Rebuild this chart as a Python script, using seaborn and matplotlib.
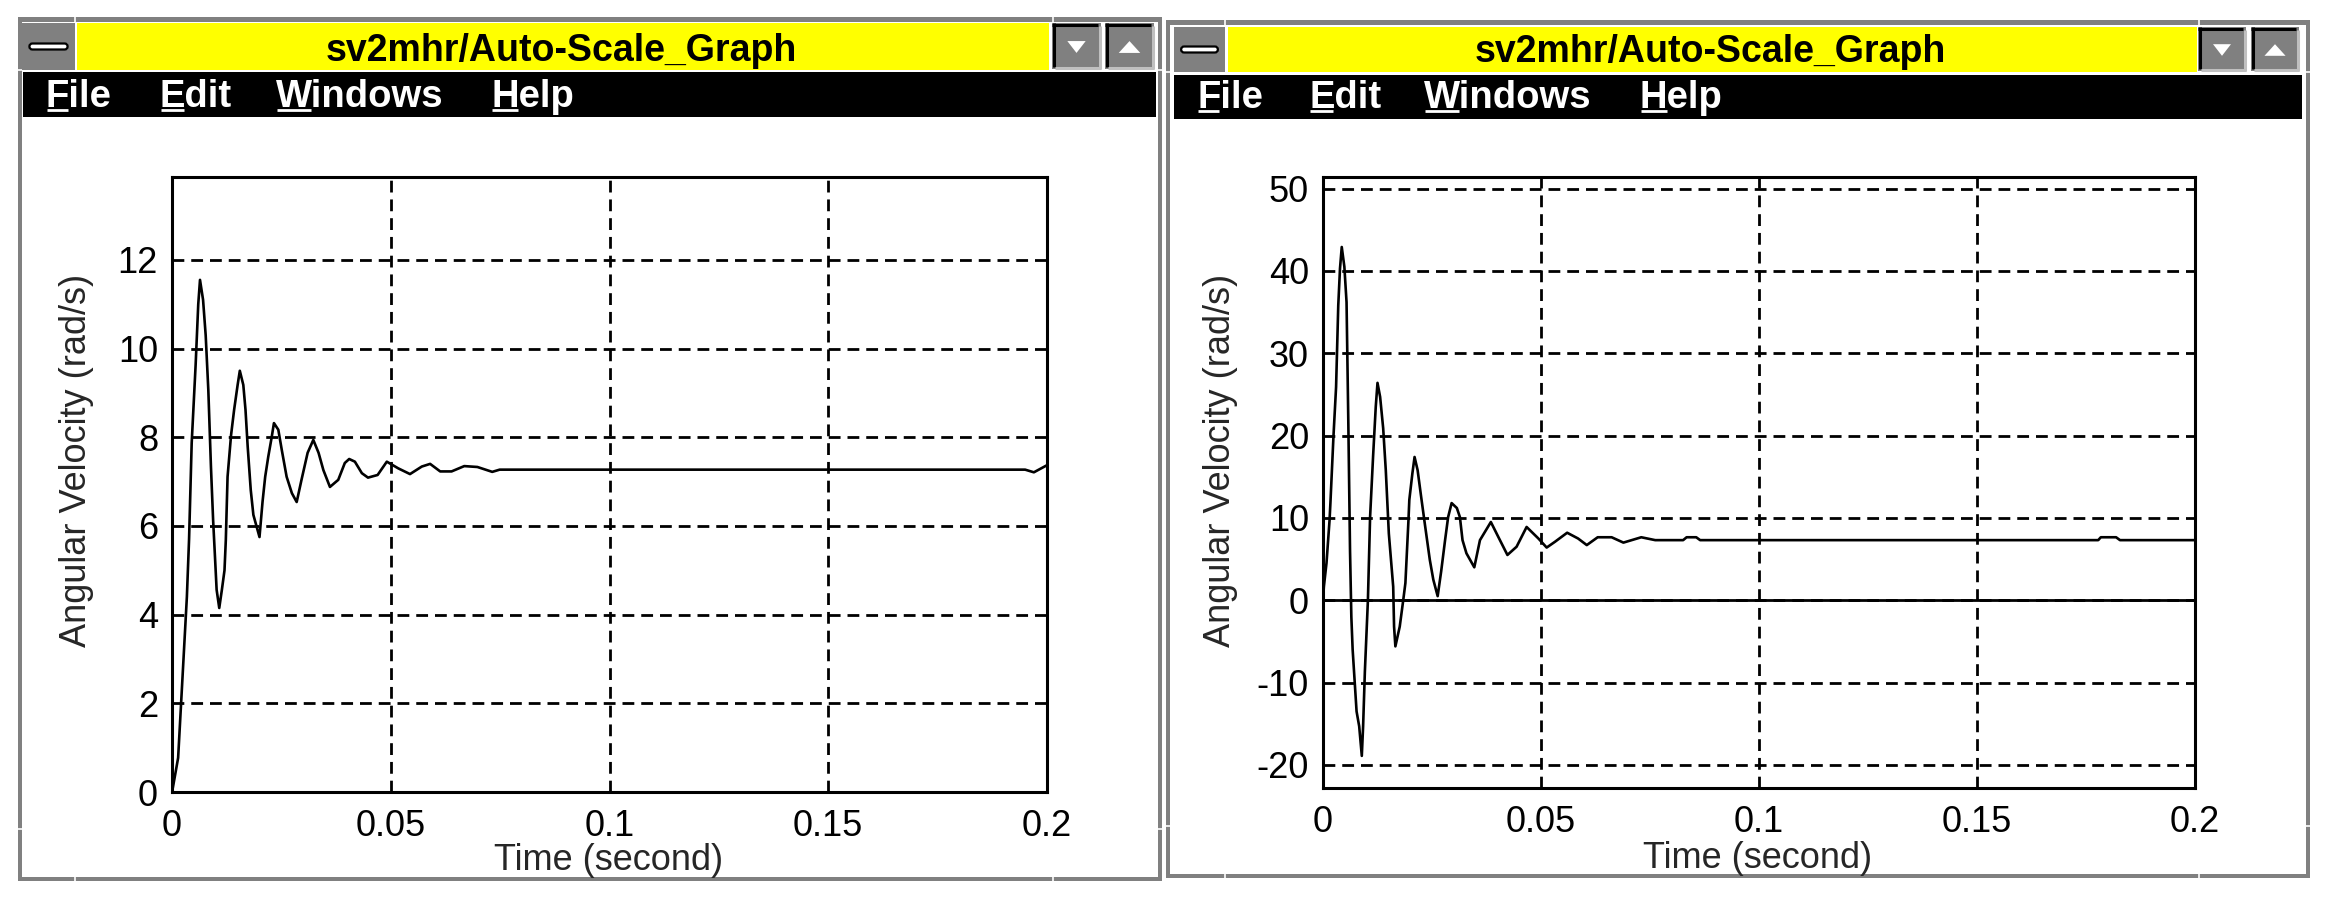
import matplotlib
matplotlib.use("Agg")
import matplotlib.pyplot as plt
import seaborn as sns
import pandas as pd
from matplotlib.patches import Rectangle, FancyBboxPatch, Polygon
from matplotlib.lines import Line2D

# ---------------- data ----------------
window_title = "sv2mhr/Auto-Scale_Graph"
menu_items = ["File", "Edit", "Windows", "Help"]
x_label = "Time (second)"
y_label = "Angular Velocity (rad/s)"
x_ticks = [0, 0.05, 0.1, 0.15, 0.2]
x_tick_labels = ["0", "0.05", "0.1", "0.15", "0.2"]
left_y_ticks = [0, 2, 4, 6, 8, 10, 12]
right_y_ticks = [-20, -10, 0, 10, 20, 30, 40, 50]

left_t = [0.0, 0.0002, 0.0014, 0.0023, 0.0034, 0.0039, 0.0045, 0.0054, 0.0060, 0.0064,
          0.0071, 0.0077, 0.0083, 0.0089, 0.0094, 0.0098, 0.0102, 0.0108, 0.0114, 0.0120,
          0.0123, 0.0127, 0.0135, 0.0142, 0.0150, 0.0155, 0.0163, 0.0168, 0.0173, 0.0180,
          0.0186, 0.0200, 0.0207, 0.0213, 0.0220, 0.0228, 0.0233, 0.0243, 0.0251, 0.0262,
          0.0274, 0.0285, 0.0296, 0.0310, 0.0323, 0.0335, 0.0346, 0.0361, 0.0380, 0.0395,
          0.0405, 0.0418, 0.0434, 0.0448, 0.0470, 0.0491, 0.0517, 0.0544, 0.0571, 0.0590,
          0.0613, 0.0639, 0.0668, 0.0698, 0.0732, 0.0749, 0.1950, 0.1970, 0.2000]
left_v = [0.0, 0.1, 0.77, 2.4, 4.4, 5.7, 7.87, 9.63, 11.0, 11.55,
          11.1, 10.3, 9.07, 7.34, 6.13, 5.35, 4.56, 4.15, 4.56, 5.0,
          5.68, 7.11, 8.05, 8.62, 9.18, 9.5, 9.18, 8.62, 7.79, 6.81,
          6.25, 5.75, 6.55, 7.11, 7.56, 8.01, 8.32, 8.17, 7.71, 7.11,
          6.74, 6.54, 7.04, 7.65, 7.94, 7.65, 7.26, 6.88, 7.04, 7.42,
          7.51, 7.45, 7.19, 7.09, 7.15, 7.45, 7.30, 7.17, 7.34, 7.40,
          7.23, 7.23, 7.35, 7.33, 7.22, 7.27, 7.27, 7.21, 7.37]

right_t = [0.0, 0.0002, 0.0008, 0.0015, 0.0017, 0.0024, 0.0030, 0.0035, 0.0039, 0.0043,
           0.0049, 0.0054, 0.0058, 0.0062, 0.0065, 0.0068, 0.0077, 0.0083, 0.0089, 0.0092,
           0.0096, 0.0103, 0.0108, 0.0115, 0.0121, 0.0125, 0.0131, 0.0138, 0.0144, 0.0151,
           0.0161, 0.0163, 0.0166, 0.0176, 0.0184, 0.0189, 0.0196, 0.0198, 0.0205, 0.0210,
           0.0217, 0.0225, 0.0234, 0.0245, 0.0253, 0.0263, 0.0271, 0.0280, 0.0287, 0.0295,
           0.0307, 0.0314, 0.0320, 0.0329, 0.0347, 0.0360, 0.0385, 0.0402, 0.0423, 0.0444,
           0.0467, 0.0494, 0.0513, 0.0532, 0.0560, 0.0585, 0.0605, 0.0630, 0.0662, 0.0689,
           0.0730, 0.0762, 0.0826, 0.0834, 0.0856, 0.0865, 0.1778, 0.1784, 0.1819, 0.1828,
           0.2000]
right_v = [0.0, 1.65, 4.5, 9.7, 11.8, 19.9, 25.9, 35.8, 40.3, 42.9,
           40.5, 36.2, 21.9, 6.0, -2.0, -6.0, -13.5, -15.3, -18.9, -15.3,
           -8.7, 0.0, 10.1, 17.6, 23.5, 26.4, 24.7, 20.9, 15.8, 8.1,
           1.65, -3.2, -5.6, -3.2, 0.0, 2.1, 9.7, 12.2, 15.4, 17.4,
           15.8, 12.6, 9.1, 4.9, 2.5, 0.5, 3.5, 7.3, 10.1, 11.8,
           11.2, 10.1, 7.3, 5.7, 4.0, 7.3, 9.5, 7.7, 5.5, 6.5,
           8.9, 7.5, 6.4, 7.1, 8.2, 7.5, 6.7, 7.65, 7.65, 7.0,
           7.65, 7.3, 7.3, 7.65, 7.65, 7.3, 7.3, 7.65, 7.65, 7.3,
           7.3]

# ---------------- style ----------------
sns.set_style("white")
plt.rcParams["font.family"] = ["Liberation Sans", "DejaVu Sans"]
plt.rcParams["axes.unicode_minus"] = False
plt.rcParams["lines.scale_dashes"] = False

W, H = 2327, 898
fig = plt.figure(figsize=(W / 100, H / 100), dpi=100)
fig.patch.set_facecolor("white")

bg = fig.add_axes([0, 0, 1, 1], zorder=0)
bg.set_xlim(0, W)
bg.set_ylim(H, 0)
bg.axis("off")

GRAY = "#808080"


def rect(x0, y0, x1, y1, color, z=1, **kw):
    bg.add_patch(Rectangle((x0, y0), x1 - x0, y1 - y0, facecolor=color,
                           edgecolor="none", zorder=z, **kw))


def hline(x0, x1, y, color, lw, z=3):
    bg.add_line(Line2D([x0, x1], [y, y], color=color, lw=lw, zorder=z,
                       solid_capstyle="butt"))


def vline(x, y0, y1, color, lw, z=3):
    bg.add_line(Line2D([x, x], [y0, y1], color=color, lw=lw, zorder=z,
                       solid_capstyle="butt"))


def draw_window(fx0, fy0, fx1, fy1, minbox, yel, down, up, menu, title_cx,
                title_base, menu_x, menu_base):
    # outer frame
    rect(fx0, fy0, fx1, fy1, GRAY, z=1)
    rect(fx0 + 4, fy0 + 5, fx1 - 4, fy1 - 4, "white", z=1.5)
    # frame notches
    for nx in (minbox[1], down[0] + 1):
        vline(nx, fy0, fy0 + 5, "white", 1.2, z=2)
        vline(nx, fy1 - 4, fy1, "white", 1.2, z=2)
    for ny in (yel[3], fy1 - 52):
        hline(fx0, fx0 + 4, ny, "white", 1.2, z=2)
        hline(fx1 - 4, fx1, ny, "white", 1.2, z=2)
    # minimize box
    rect(minbox[0], minbox[2], minbox[1], minbox[3], GRAY, z=2)
    cx = (minbox[0] + minbox[1]) / 2
    cy = (minbox[2] + minbox[3]) / 2
    bw = (minbox[1] - minbox[0]) * 0.72
    bg.add_patch(FancyBboxPatch((cx - bw / 2, cy - 3), bw, 6,
                                boxstyle="round,pad=0,rounding_size=3",
                                facecolor="white", edgecolor="black", lw=1.6, zorder=3))
    # yellow title bar
    rect(yel[0], yel[2], yel[1], yel[3], "#ffff00", z=2)
    bg.text(title_cx, title_base, window_title, ha="center", va="baseline",
            fontsize=27, fontweight="bold", color="black", zorder=4)
    # buttons
    for (bx0, bx1), pointing_up in ((down, False), (up, True)):
        by0, by1 = yel[2], yel[3] - 1
        rect(bx0, by0, bx1, by1, GRAY, z=2)
        hline(bx0, bx1 - 3, by0 + 1.5, "black", 2.2)
        vline(bx0 + 1.5, by0, by1 - 2, "black", 2.2)
        vline(bx1 - 1.5, by0 + 3, by1, "#c0c0c0", 2.2)
        hline(bx0 + 3, bx1, by1 - 1.5, "#c0c0c0", 2.2)
        mx = (bx0 + bx1) / 2
        my = (by0 + by1) / 2 + 1
        hw = (bx1 - bx0) * 0.22
        hh = hw * 0.55
        if pointing_up:
            pts = [(mx - hw, my + hh), (mx + hw, my + hh), (mx, my - hh)]
        else:
            pts = [(mx - hw * 0.85, my - hh), (mx + hw * 0.85, my - hh), (mx, my + hh)]
        bg.add_patch(Polygon(pts, closed=True, facecolor="white", edgecolor="none", zorder=4))
    # menu bar
    rect(menu[0], menu[2], menu[1], menu[3], "black", z=2)
    renderer = fig.canvas.get_renderer()
    inv = bg.transData.inverted()
    for label, mxp in zip(menu_items, menu_x):
        bg.text(mxp, menu_base, label, ha="left", va="baseline", fontsize=27.5,
                fontweight="bold", color="white", zorder=4)
        tmp = bg.text(mxp, menu_base, label[0], ha="left", va="baseline",
                      fontsize=27.5, fontweight="bold", color="white")
        bb = tmp.get_window_extent(renderer)
        tmp.remove()
        (ux0, _), (ux1, _) = inv.transform([(bb.x0, bb.y0), (bb.x1, bb.y0)])
        hline(ux0 + 1, ux1 - 1, menu_base + 3, "white", 2.0, z=4)


draw_window(18, 17, 1162, 881, (22, 75, 23, 70), (77, 1049, 23, 70),
            (1052, 1101), (1105, 1154), (23, 1156, 72, 117), 561, 61,
            [46, 160, 276, 491], 107)
draw_window(1166, 20, 2310, 878, (1174, 1225, 27, 72), (1228, 2197, 27, 72),
            (2198, 2246), (2251, 2299), (1174, 2302, 75, 119), 1710, 62,
            [1197, 1309, 1424, 1640], 108)


def px_axes(x0, y0, x1, y1):
    return fig.add_axes([x0 / W, 1 - y1 / H, (x1 - x0) / W, (y1 - y0) / H], zorder=2)


def style_axes(ax, yticks, ylim, ylab_x, ylab_y, xlab_x, xlab_y):
    ax.set_facecolor("white")
    ax.set_xlim(0, 0.2)
    ax.set_ylim(*ylim)
    ax.set_xticks(x_ticks)
    ax.set_xticklabels(x_tick_labels)
    ax.set_yticks(yticks)
    ax.set_yticklabels([str(v) for v in yticks])
    ax.tick_params(axis="both", length=0, labelsize=26, labelcolor="black")
    ax.tick_params(axis="x", pad=12)
    ax.tick_params(axis="y", pad=10)
    ax.grid(True, color="black", linestyle=(0, (8.5, 5)), linewidth=2.0)
    ax.set_axisbelow(True)
    for s in ax.spines.values():
        s.set_visible(True)
        s.set_color("black")
        s.set_linewidth(2.2)
    ax.set_xlabel(x_label, fontsize=26)
    ax.set_ylabel(y_label, fontsize=26)
    ax.xaxis.set_label_coords(xlab_x / W, 1 - xlab_y / H, transform=fig.transFigure)
    ax.xaxis.label.set_va("center")
    ax.yaxis.set_label_coords(ylab_x / W, 1 - ylab_y / H, transform=fig.transFigure)
    ax.yaxis.label.set_va("center")


ax1 = px_axes(172, 177, 1047, 792)
df1 = pd.DataFrame({"t": left_t, "v": left_v})
sns.lineplot(data=df1, x="t", y="v", ax=ax1, color="black", linewidth=1.9,
             estimator=None, sort=False, zorder=3)
style_axes(ax1, left_y_ticks, (0, 13.87), 77, 460, 609, 861)

ax2 = px_axes(1323, 177, 2195, 788)
df2 = pd.DataFrame({"t": right_t, "v": right_v})
ax2.axhline(0, color="black", linewidth=2.0, zorder=2.5)
sns.lineplot(data=df2, x="t", y="v", ax=ax2, color="black", linewidth=1.9,
             estimator=None, sort=False, zorder=3)
style_axes(ax2, right_y_ticks, (-22.8, 51.4), 1221, 460, 1758, 858)

fig.savefig("out.png", dpi=100, facecolor="white")
